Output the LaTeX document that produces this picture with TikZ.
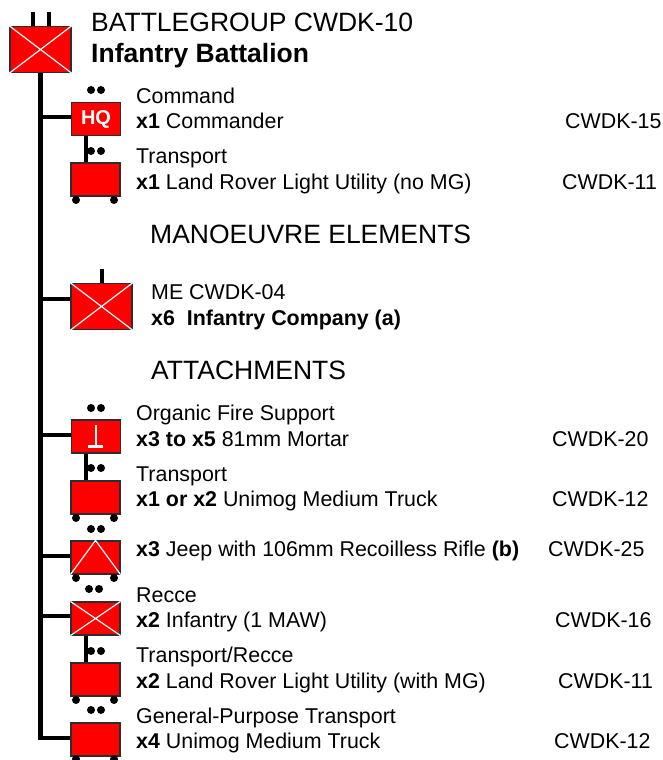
\documentclass[tikz,border=0pt]{standalone}
\usepackage{xcolor}
\usepackage{fontspec}
\setmainfont{Liberation Sans}
\usetikzlibrary{shapes,arrows,positioning,calc,fit}
\definecolor{unitred}{RGB}{255,0,0}
\definecolor{unitedge}{RGB}{45,45,45}

\begin{document}
\begin{tikzpicture}[
            x=1pt, y=-1pt,
            unit/.style={draw=unitedge, fill=unitred, line width=1.2pt, inner sep=0pt, minimum width=49pt, minimum height=33pt},
            bigunit/.style={unit, minimum width=61pt, minimum height=46pt},
            lbl/.style={anchor=base west, inner sep=0pt, font=\fontsize{21.4}{24}\selectfont},
            code/.style={lbl},
            head/.style={anchor=base west, inner sep=0pt, font=\fontsize{26.5}{30}\selectfont},
            dot/.style={circle, fill=black, inner sep=0pt, minimum size=8pt},
            line/.style={line width=4.4pt},
            thin line/.style={line width=3.6pt},
            mark line/.style={draw=white, line width=1.2pt},
        ]
            \useasboundingbox (0,0) rectangle (663,760);
            % lines first, boxes go over them
            \coordinate (stemA) at (33,12);
            \coordinate (stemB) at (49,12);
            \coordinate (stemC) at (102,269);
            \coordinate (trunkend) at (40.5,740);

            \node[bigunit] (bg) at (40.5,49.5) {};
            \node[unit] (hq) at (96,119) {};
            \node[unit] (hqtruck) at (95.5,179.5) {};
            \node[bigunit] (me) at (101.5,306.5) {};
            \node[unit] (mortar) at (96,436.5) {};
            \node[unit] (mortartruck) at (95.5,497.5) {};
            \node[unit] (jeep) at (95.5,557.5) {};
            \node[unit] (recce) at (95.5,618.5) {};
            \node[unit] (reccetruck) at (95.5,679.5) {};
            \node[unit] (gptruck) at (95.5,739.5) {};

            \draw[line] (bg.south) -- (trunkend);
            \draw[line] (stemA) -- (stemA |- bg.north);
            \draw[line] (stemB) -- (stemB |- bg.north);
            \draw[thin line] (stemC) -- (stemC |- me.north);
            \draw[line] (bg.south |- 0,117) -- (hq.west |- 0,117);
            \draw[line] (bg.south |- 0,299) -- (me.west |- 0,299);
            \draw[line] (bg.south |- 0,435) -- (mortar.west |- 0,435);
            \draw[line] (bg.south |- 0,556) -- (jeep.west |- 0,556);
            \draw[line] (bg.south |- 0,616) -- (recce.west |- 0,616);
            \draw[line] ($(trunkend)+(-2.2,-2)$) -- (gptruck.west |- 0,738);
            \draw[thin line] (hq.south -| 86,0) -- (hqtruck.north -| 86,0);
            \draw[thin line] (mortar.south -| 86,0) -- (mortartruck.north -| 86,0);
            \draw[thin line] (recce.south -| 86,0) -- (reccetruck.north -| 86,0);

            % symbols
            \draw[mark line] (bg.north west) -- (bg.south east) (bg.north east) -- (bg.south west);
            \draw[mark line] (me.north west) -- (me.south east) (me.north east) -- (me.south west);
            \draw[mark line] (recce.north west) -- (recce.south east) (recce.north east) -- (recce.south west);
            \draw[mark line] (jeep.south west) -- (jeep.north) -- (jeep.south east);
            \draw[white, line width=2.2pt] (96,425) -- (96,446);
            \draw[white, line width=3pt] (88,446) -- (103,446);
            \node[inner sep=0pt, text=white, font=\bfseries\fontsize{20}{22}\selectfont] (hqtext) at (hq) {HQ};

            % dots over the boxes
            \foreach \dx/\dy/\dn in {91/90/a,101/90/b,91/151/c,101/151/d,91/408/e,101/408/f,91/468/g,101/468/h,91/529/i,101/529/j,89/589/k,99/589/l,91/651/m,101/651/n,91/710/o,101/710/p}
                \node[dot] (dot\dn) at (\dx,\dy) {};
            % wheels
            \foreach \wy/\wn in {200/a,518/b,578/c,700/d,759/e}{
                \node[dot] (wheelL\wn) at (76,\wy) {};
                \node[dot] (wheelR\wn) at (114,\wy) {};
            }

            % labels
            \node[head] (title) at (91,32) {BATTLEGROUP CWDK-10};
            \node[head, font=\bfseries\fontsize{26.5}{30}\selectfont] (subtitle) at (91,63) {Infantry Battalion};
            \node[lbl] (l1) at (136,103) {Command};
            \node[lbl] (l2) at (136,128) {\textbf{x1} Commander};
            \node[code] (c2) at (565,128) {CWDK-15};
            \node[lbl] (l3) at (136,163) {Transport};
            \node[lbl] (l4) at (136,189) {\textbf{x1} Land Rover Light Utility (no MG)};
            \node[code] (c4) at (562,189) {CWDK-11};
            \node[head] (manoeuvre) at (150,243) {MANOEUVRE ELEMENTS};
            \node[lbl] (l5) at (151,299) {ME CWDK-04};
            \node[lbl] (l6) at (151,325) {\textbf{x6\ \ Infantry Company (a)}};
            \node[head] (attach) at (151,379) {ATTACHMENTS};
            \node[lbl] (l7) at (136,420) {Organic Fire Support};
            \node[lbl] (l8) at (136,446) {\textbf{x3 to x5} 81mm Mortar};
            \node[code] (c8) at (552,446) {CWDK-20};
            \node[lbl] (l9) at (136,481) {Transport};
            \node[lbl] (l10) at (136,506) {\textbf{x1 or x2} Unimog Medium Truck};
            \node[code] (c10) at (552,506) {CWDK-12};
            \node[lbl] (l11) at (136,556) {\textbf{x3} Jeep with 106mm Recoilless Rifle \textbf{(b)}};
            \node[code] (c11) at (548,556) {CWDK-25};
            \node[lbl] (l12) at (136,602) {Recce};
            \node[lbl] (l13) at (136,627) {\textbf{x2} Infantry (1 MAW)};
            \node[code] (c13) at (555,627) {CWDK-16};
            \node[lbl] (l14) at (136,662) {Transport/Recce};
            \node[lbl] (l15) at (136,688) {\textbf{x2} Land Rover Light Utility (with MG)};
            \node[code] (c15) at (558,688) {CWDK-11};
            \node[lbl] (l16) at (136,723) {General-Purpose Transport};
            \node[lbl] (l17) at (136,748) {\textbf{x4} Unimog Medium Truck};
            \node[code] (c17) at (554,748) {CWDK-12};
        \end{tikzpicture}
\end{document}
